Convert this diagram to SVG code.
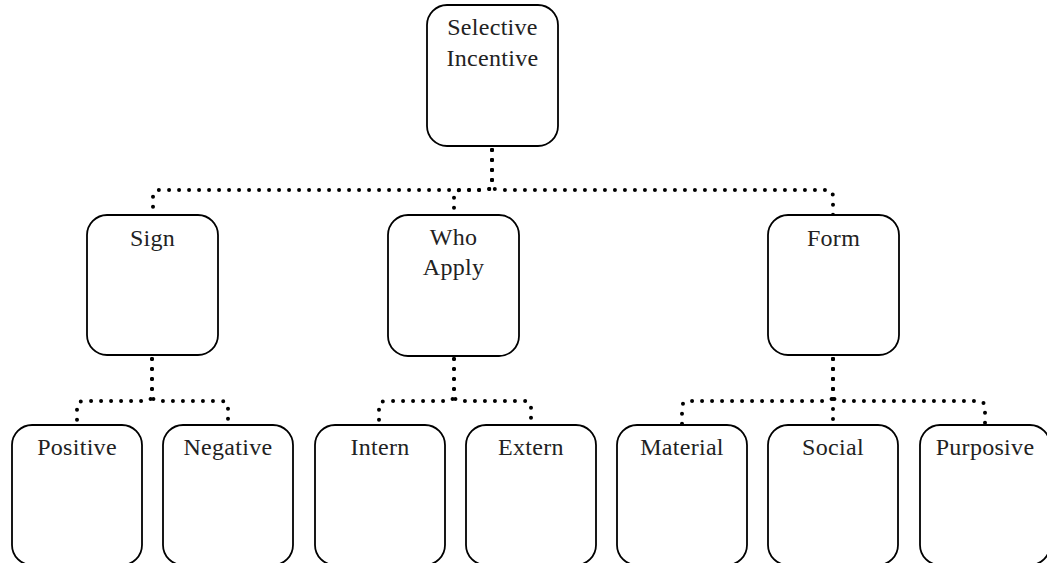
<svg xmlns="http://www.w3.org/2000/svg" width="1047" height="563" viewBox="0 0 1047 563">
<style>
.box{fill:#fff;stroke:#000;stroke-width:1.8}
.lbl{font-family:"Liberation Serif","Times New Roman",serif;font-size:24px;fill:#222;text-anchor:middle;letter-spacing:0.3px}
.con{fill:none;stroke:#000;stroke-width:4;stroke-linecap:round;stroke-dasharray:0 10}
</style>
<rect width="1047" height="563" fill="#fff"/>
<g id="connectors">
<path class="con" d="M492 150 V183 Q492 190 485 190 H160 Q153 190 153 197 V215"/>
<path class="con" d="M492 150 V183 Q492 190 485 190 H461 Q454 190 454 197 V215"/>
<path class="con" d="M492 150 V183 Q492 190 499 190 H826 Q833 190 833 197 V215"/>
<path class="con" d="M152 359 V394 Q152 401 145 401 H84 Q77 401 77 408 V425"/>
<path class="con" d="M152 359 V394 Q152 401 159 401 H221 Q228 401 228 408 V425"/>
<path class="con" d="M454 359 V394 Q454 401 447 401 H386 Q379 401 379 408 V425"/>
<path class="con" d="M454 359 V394 Q454 401 461 401 H524 Q531 401 531 408 V425"/>
<path class="con" d="M833 359 V394 Q833 401 826 401 H689 Q682 401 682 408 V425"/>
<path class="con" d="M833 359 V425"/>
<path class="con" d="M833 359 V394 Q833 401 840 401 H978 Q985 401 985 408 V425"/>
</g>
<g id="selective-incentive">
<rect class="box" x="427" y="5" width="131" height="141" rx="20"/>
<text class="lbl" x="492.5" y="35">Selective</text>
<text class="lbl" x="492.5" y="66">Incentive</text>
</g>
<g id="sign">
<rect class="box" x="87" y="215" width="131" height="140" rx="20"/>
<text class="lbl" x="152.5" y="246">Sign</text>
</g>
<g id="who-apply">
<rect class="box" x="388" y="215" width="131" height="141" rx="20"/>
<text class="lbl" x="453.5" y="245">Who</text>
<text class="lbl" x="453.5" y="275">Apply</text>
</g>
<g id="form">
<rect class="box" x="768" y="215" width="131" height="140" rx="20"/>
<text class="lbl" x="833.5" y="246">Form</text>
</g>
<g id="positive">
<rect class="box" x="12" y="425" width="130" height="140" rx="20"/>
<text class="lbl" x="77" y="455">Positive</text>
</g>
<g id="negative">
<rect class="box" x="163" y="425" width="130" height="140" rx="20"/>
<text class="lbl" x="228" y="455">Negative</text>
</g>
<g id="intern">
<rect class="box" x="315" y="425" width="130" height="140" rx="20"/>
<text class="lbl" x="380" y="455">Intern</text>
</g>
<g id="extern">
<rect class="box" x="466" y="425" width="130" height="140" rx="20"/>
<text class="lbl" x="531" y="455">Extern</text>
</g>
<g id="material">
<rect class="box" x="617" y="425" width="130" height="140" rx="20"/>
<text class="lbl" x="682" y="455">Material</text>
</g>
<g id="social">
<rect class="box" x="768" y="425" width="130" height="140" rx="20"/>
<text class="lbl" x="833" y="455">Social</text>
</g>
<g id="purposive">
<rect class="box" x="920" y="425" width="130" height="140" rx="20"/>
<text class="lbl" x="985" y="455">Purposive</text>
</g>
</svg>
